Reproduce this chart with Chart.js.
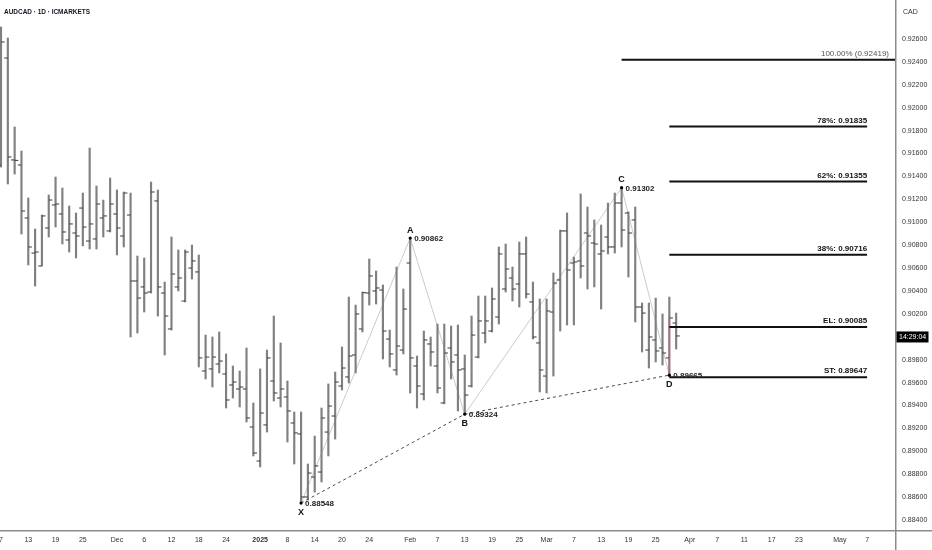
<!DOCTYPE html>
<html><head><meta charset="utf-8">
<script src="https://cdn.jsdelivr.net/npm/chart.js@4"></script>
<style>html,body{margin:0;padding:0;background:#fff;}#wrap{width:932px;height:550px;}</style>
</head><body><div id="wrap"><canvas id="c" width="932" height="550"></canvas></div>
<script>
const openP = [0.91500,0.92434,0.91544,0.91500,0.91037,0.90731,0.90618,0.90950,0.91151,0.91072,
0.90845,0.90906,0.91124,0.90836,0.90854,0.91037,0.90924,0.91072,0.90880,0.91063,
0.90487,0.90435,0.90391,0.91186,0.90382,0.90068,0.90435,0.90312,0.90600,0.90566,
0.89701,0.89719,0.89762,0.89675,0.89579,0.89544,0.89544,0.89212,0.88915,0.89230,
0.89614,0.89465,0.89474,0.89247,0.89151,0.88601,0.88775,0.88819,0.89168,0.89308,
0.89570,0.89649,0.89841,0.90068,0.90382,0.90400,0.90408,0.89980,0.89710,0.89884,
0.90644,0.89745,0.89500,0.89937,0.89745,0.89422,0.89902,0.89841,0.89719,0.89570,
0.89823,0.90033,0.90050,0.90173,0.90417,0.90513,0.90461,0.90723,0.90304,0.89946,
0.89657,0.90216,0.90496,0.90924,0.90644,0.90662,0.90906,0.90819,0.90723,0.90871,
0.90784,0.91168,0.91081,0.91020,0.90260,0.89884,0.89972,0.89902,0.89815,0.90120];
const highP = [0.92705,0.92609,0.91832,0.91622,0.91212,0.90941,0.91063,0.91238,0.91395,0.91299,
0.91142,0.91081,0.91255,0.91648,0.91316,0.91194,0.91386,0.91282,0.91264,0.91255,
0.90705,0.90688,0.91351,0.91282,0.90478,0.90871,0.90758,0.90758,0.90801,0.90714,
0.90015,0.89998,0.90042,0.89850,0.89745,0.89701,0.89902,0.89422,0.89719,0.89884,
0.90181,0.89946,0.89614,0.89343,0.89343,0.88889,0.89133,0.89378,0.89588,0.89692,
0.89911,0.90347,0.90277,0.90391,0.90679,0.90574,0.90452,0.90059,0.90609,0.90417,
0.90862,0.89832,0.90050,0.89998,0.90111,0.90111,0.90094,0.90103,0.89841,0.90181,
0.90356,0.90356,0.90426,0.90784,0.90810,0.90609,0.90827,0.90871,0.90478,0.90330,
0.90330,0.90557,0.90932,0.91081,0.90696,0.91247,0.91133,0.91020,0.90976,0.91168,
0.91255,0.91302,0.91090,0.91133,0.90295,0.90295,0.90338,0.90199,0.90347,0.90207];
const lowP = [0.91482,0.91334,0.91421,0.90897,0.90627,0.90443,0.90618,0.90871,0.90958,0.90810,
0.90740,0.90688,0.90793,0.90766,0.90766,0.90871,0.90915,0.90714,0.90784,0.89998,
0.90033,0.90216,0.90382,0.90181,0.89841,0.90059,0.90400,0.90304,0.90504,0.89736,
0.89631,0.89561,0.89684,0.89378,0.89465,0.89387,0.89256,0.88959,0.88863,0.89168,
0.89439,0.89387,0.89081,0.88889,0.88548,0.88575,0.88644,0.88732,0.88959,0.89107,
0.89535,0.89596,0.89684,0.90042,0.90277,0.90286,0.89806,0.89736,0.89666,0.89850,
0.89509,0.89378,0.89448,0.89745,0.89509,0.89415,0.89631,0.89352,0.89324,0.89561,
0.89815,0.89946,0.90042,0.90111,0.90391,0.90312,0.90260,0.90338,0.89980,0.89518,
0.89509,0.89657,0.90050,0.90103,0.90103,0.90513,0.90417,0.90435,0.90242,0.90723,
0.90731,0.90784,0.90522,0.90129,0.89867,0.89727,0.89780,0.89753,0.89665,0.89893];
const closeP = [0.92574,0.91570,0.91540,0.91098,0.90784,0.90740,0.91055,0.91194,0.91159,0.90915,
0.90985,0.90880,0.90958,0.90985,0.91159,0.91055,0.91159,0.90950,0.91255,0.90487,
0.90338,0.90382,0.91264,0.90435,0.90181,0.90548,0.90513,0.90740,0.90662,0.89815,
0.89823,0.89823,0.89788,0.89448,0.89605,0.89561,0.89291,0.88985,0.89334,0.89815,
0.89509,0.89544,0.89352,0.89160,0.88601,0.88810,0.88872,0.89291,0.89395,0.89605,
0.89727,0.89832,0.90199,0.90385,0.90531,0.90426,0.90050,0.89850,0.89919,0.90242,
0.89815,0.89570,0.89972,0.89867,0.89553,0.89858,0.89780,0.89710,0.89491,0.90015,
0.90138,0.90138,0.90330,0.90723,0.90592,0.90417,0.90723,0.90373,0.89998,0.89710,
0.90225,0.90469,0.90924,0.90583,0.90653,0.90618,0.90880,0.90810,0.90749,0.90784,
0.91168,0.90932,0.90906,0.90260,0.90207,0.89998,0.89876,0.89858,0.90164,0.90007];

const xTickIdx = [0,4,8,12,17,21,25,29,33,38,42,46,50,54,60,64,68,72,76,80,84,88,92,96,101,105,109,113,117,123,127];
const xTickLabels = ['7','13','19','25','Dec','6','12','18','24','2025','8','14','20','24','Feb','7','13','19','25','Mar','7','13','19','25','Apr','7','11','17','23','May','7'];
const yTicks = [0.884,0.886,0.888,0.890,0.892,0.894,0.896,0.898,0.900,0.902,0.904,0.906,0.908,0.910,0.912,0.914,0.916,0.918,0.920,0.922,0.924,0.926];

const patternIdx = [44,60,68,91,98];
const patternNames = ['X','A','B','C','D'];
const patternVals = [0.88548,0.90862,0.89324,0.91302,0.89665];
const levelNames = ['100.00% (0.92419)','78%: 0.91835','62%: 0.91355','38%: 0.90716','EL: 0.90085','ST: 0.89647'];
const levelVals = [0.92419,0.91835,0.91355,0.90716,0.90085,0.89647];
const levelStart = [91,98,98,98,98,98];
const levelEnd = [132,127,127,127,127,127];
const titleText = 'AUDCAD · 1D · ICMARKETS';
const currencyText = 'CAD';
const countdownText = '14:29:04';

const FONT = "'Liberation Sans', Arial, sans-serif";

const pt = (i, v) => ({x: i, y: v});
const datasets = [];
datasets.push({type:'bar', data: highP.map((h,i)=>({x:i, y:[lowP[i], h]})), backgroundColor:'#808080', borderWidth:0, barThickness:1.5, order:4});
datasets.push({type:'line', data: openP.map((v,i)=>pt(i-0.27, v)), showLine:false, pointStyle:'line', pointRadius:1.8, pointBorderWidth:1, pointBorderColor:'#3a3a3a', pointBackgroundColor:'#3a3a3a', order:3});
datasets.push({type:'line', data: closeP.map((v,i)=>pt(i+0.27, v)), showLine:false, pointStyle:'line', pointRadius:1.8, pointBorderWidth:1, pointBorderColor:'#3a3a3a', pointBackgroundColor:'#3a3a3a', order:3});
datasets.push({type:'line', data: patternIdx.map((i,k)=>pt(i, patternVals[k])), borderColor:'#cbcbcb', borderWidth:1, pointRadius:0, tension:0, order:5});
datasets.push({type:'line', data: [0,2,4].map(k=>pt(patternIdx[k], patternVals[k])), borderColor:'#4a4a4a', borderWidth:1, borderDash:[3,3], pointRadius:0, tension:0, order:2});
levelVals.forEach((v,k)=>{
  datasets.push({type:'line', data:[pt(levelStart[k], v), pt(levelEnd[k], v)], borderColor:'#111', borderWidth:2, pointRadius:0, order:1});
});
datasets.push({type:'line', data:[pt(patternIdx[4], closeP[patternIdx[4]]), pt(patternIdx[4], levelVals[5])], borderColor:'#c4637c', borderWidth:1.5, pointRadius:0, order:1});
datasets.push({type:'line', data: patternIdx.map((i,k)=>pt(i, patternVals[k])), showLine:false, pointRadius:1.6, pointBackgroundColor:'#000', pointBorderColor:'#000', pointBorderWidth:0, order:0});

const annot = {
  id:'annot',
  afterDraw(chart){
    const {ctx, chartArea:a, scales:{x, y}} = chart;
    ctx.save();
    ctx.strokeStyle = '#8c8c8c'; ctx.lineWidth = 1.5;
    ctx.beginPath();
    ctx.moveTo(a.right + 0.75, 0); ctx.lineTo(a.right + 0.75, 550);
    ctx.moveTo(0, a.bottom + 0.75); ctx.lineTo(932, a.bottom + 0.75);
    ctx.stroke();
    // title (condensed)
    ctx.fillStyle = '#131722'; ctx.textBaseline = 'middle'; ctx.textAlign = 'left';
    ctx.font = "bold 8px " + FONT;
    const tw = ctx.measureText(titleText).width;
    ctx.save();
    ctx.translate(4, 12);
    ctx.scale(Math.min(1, 86 / tw), 1);
    ctx.fillText(titleText, 0, 0);
    ctx.restore();
    // currency
    ctx.fillStyle = '#333'; ctx.font = "7px " + FONT;
    ctx.fillText(currencyText, a.right + 8, 12);
    // countdown box
    const cy = y.getPixelForValue(closeP[closeP.length-1]) + 1;
    ctx.fillStyle = '#000'; ctx.fillRect(a.right + 1.5, cy - 5.5, 32, 11);
    ctx.fillStyle = '#fff'; ctx.font = "7px " + FONT;
    ctx.fillText(countdownText, a.right + 4, cy);
    // level labels
    levelNames.forEach((t,k)=>{
      const py = y.getPixelForValue(levelVals[k]);
      ctx.textAlign = 'right'; ctx.textBaseline = 'alphabetic';
      if (k === 0) {
        ctx.font = "8px " + FONT; ctx.fillStyle = '#555';
        ctx.fillText(t, a.right - 6, py - 4);
      } else {
        ctx.font = "bold 8px " + FONT; ctx.fillStyle = '#111';
        ctx.fillText(t, x.getPixelForValue(levelEnd[k]), py - 4);
      }
    });
    // pattern labels
    patternIdx.forEach((i,k)=>{
      const px = x.getPixelForValue(i), py = y.getPixelForValue(patternVals[k]);
      const above = k % 2 === 1;
      ctx.fillStyle = '#111'; ctx.textAlign = 'center'; ctx.textBaseline = 'middle';
      ctx.font = "bold 9px " + FONT;
      ctx.fillText(patternNames[k], px, above ? py - 8 : py + 9);
      ctx.textAlign = 'left'; ctx.font = "bold 8px " + FONT; ctx.fillStyle = '#222';
      ctx.fillText(patternVals[k].toFixed(5), px + 4, py + 1);
    });
    ctx.restore();
  }
};

new Chart(document.getElementById('c'), {
  type:'bar',
  data:{datasets},
  options:{
    responsive:false, animation:false,
    layout:{padding:0, autoPadding:false},
    plugins:{legend:{display:false}, tooltip:{enabled:false}},
    scales:{
      x:{type:'linear', min:-0.147, max:131.09, offset:false,
        grid:{display:false, drawTicks:false}, border:{display:false},
        afterBuildTicks: s => { s.ticks = xTickIdx.map(v=>({value:v})); },
        afterFit: s => { s.height = 20; s.paddingLeft = 0; s.paddingRight = 0; },
        ticks:{autoSkip:false, maxRotation:0, padding:6, color:'#333',
          font: c => ({family:FONT, size:7, weight: (c.tick && c.tick.value === 38) ? 'bold' : 'normal'}),
          callback: v => { const k = xTickIdx.indexOf(v); return k >= 0 ? xTickLabels[k] : ''; }}
      },
      y:{position:'right', min:0.883127, max:0.929406,
        grid:{display:false, drawTicks:false}, border:{display:false},
        afterBuildTicks: s => { s.ticks = yTicks.map(v=>({value:v})); },
        afterFit: s => { s.width = 37; s.paddingTop = 0; s.paddingBottom = 0; },
        ticks:{padding:7, color:'#333', font:{family:FONT, size:7}, callback: v => v.toFixed(5)}
      }
    }
  },
  plugins:[annot]
});
</script>
</body></html>
